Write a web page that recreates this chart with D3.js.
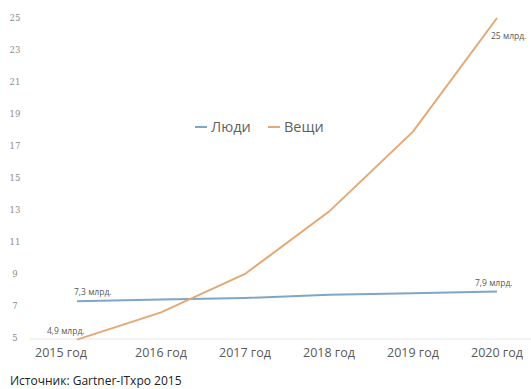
<!DOCTYPE html>
<html>
<head>
<meta charset="utf-8">
<script src="https://cdn.jsdelivr.net/npm/d3@7"></script>
<style>
  body { margin: 0; background: #fff; }
  svg { display: block; }
</style>
</head>
<body>
<svg id="chart" width="531" height="389"></svg>
<script>
// chart values
const years = ['2015 год', '2016 год', '2017 год', '2018 год', '2019 год', '2020 год'];
const people = [7.3, 7.4, 7.5, 7.7, 7.8, 7.9];
const things = [4.9, 6.6, 9.0, 12.9, 17.9, 25];
const yTicks = [5, 7, 9, 11, 13, 15, 17, 19, 21, 23, 25];
const peopleLabels = ['7,3 млрд.', '7,9 млрд.'];
const thingsLabels = ['4,9 млрд.', '25 млрд.'];

const svg = d3.select('#chart');
const font = '"Open Sans", sans-serif';

let x = d3.scalePoint()
    .domain(years)
    .range([77, 497]);

let y = d3.scaleLinear()
    .domain([5, 25])
    .range([338, 18]);

// baseline
svg.append('line')
    .attr('x1', 30).attr('x2', 531)
    .attr('y1', y(5) + 1).attr('y2', y(5) + 1)
    .attr('stroke', '#e6e6e6')
    .attr('stroke-width', 1);

// y tick labels
svg.append('g')
    .selectAll('text')
    .data(yTicks)
    .join('text')
    .attr('x', 15)
    .attr('y', d => y(d))
    .attr('dy', '0.35em')
    .attr('text-anchor', 'middle')
    .attr('font-family', '"DejaVu Serif", serif')
    .attr('font-size', 8.5)
    .attr('fill', '#8c8c8c')
    .text(d => d);

// x axis labels
svg.append('g')
    .selectAll('text')
    .data(years)
    .join('text')
    .attr('x', (d, i) => i === 0 ? x(d) - 16 : x(d))
    .attr('y', 357)
    .attr('text-anchor', 'middle')
    .attr('font-family', font)
    .attr('font-size', 12.5)
    .attr('fill', '#595959')
    .text(d => d);

const line = d3.line()
    .x((d, i) => x(years[i]))
    .y(d => y(d));

svg.append('path')
    .datum(people)
    .attr('d', line)
    .attr('fill', 'none')
    .attr('stroke', '#7ea6c8')
    .attr('stroke-width', 2);

svg.append('path')
    .datum(things)
    .attr('d', line)
    .attr('fill', 'none')
    .attr('stroke', '#e5a873')
    .attr('stroke-width', 2);

// data labels
let labelStyle = function (sel) {
    sel.attr('font-family', font)
        .attr('font-size', 8.5)
        .attr('fill', '#595959');
};
svg.append('text')
    .attr('x', x(years[0]) - 3)
    .attr('y', y(people[0]) - 6)
    .text(peopleLabels[0])
    .call(labelStyle);
svg.append('text')
    .attr('x', x(years[5]) - 22)
    .attr('y', y(people[5]) - 6)
    .text(peopleLabels[1])
    .call(labelStyle);
svg.append('text')
    .attr('x', x(years[0]) - 30)
    .attr('y', y(things[0]) - 6)
    .text(thingsLabels[0])
    .call(labelStyle);
svg.append('text')
    .attr('x', x(years[5]) - 6)
    .attr('y', y(things[5]) + 21)
    .text(thingsLabels[1])
    .call(labelStyle);

// legend
const legend = [['Люди', '#7ea6c8', 195], ['Вещи', '#e5a873', 268]];
const lg = svg.append('g')
    .selectAll('g')
    .data(legend)
    .join('g')
    .attr('transform', d => 'translate(' + d[2] + ',127)');
lg.append('line')
    .attr('x1', 0).attr('x2', 12)
    .attr('stroke', d => d[1])
    .attr('stroke-width', 2);
lg.append('text')
    .attr('x', 16)
    .attr('dy', '0.35em')
    .attr('font-family', font)
    .attr('font-size', 14.5)
    .attr('fill', '#5f5f5f')
    .text(d => d[0]);

// source
svg.append('text')
    .attr('x', 10)
    .attr('y', 385)
    .attr('font-family', font)
    .attr('font-size', 12)
    .attr('fill', '#222')
    .text('Источник: Gartner-ITxpo 2015');
</script>
</body>
</html>
